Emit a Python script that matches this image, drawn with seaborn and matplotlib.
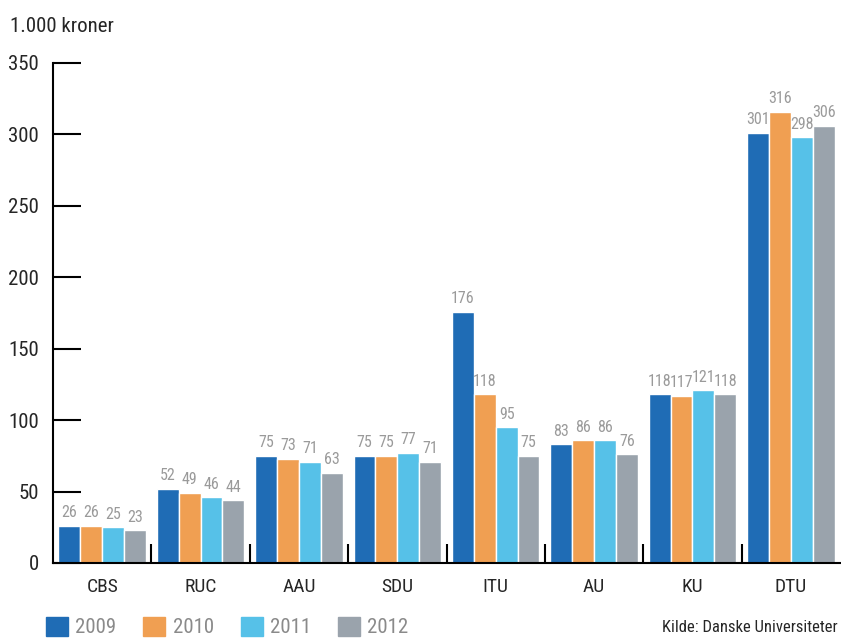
import matplotlib
matplotlib.use("Agg")
import matplotlib.pyplot as plt
import seaborn as sns
import pandas as pd
from matplotlib import font_manager as fm
from matplotlib.ticker import FixedLocator

universities = ["CBS", "RUC", "AAU", "SDU", "ITU", "AU", "KU", "DTU"]
years = ["2009", "2010", "2011", "2012"]
v2009 = [26, 52, 75, 75, 176, 83, 118, 301]
v2010 = [26, 49, 73, 75, 118, 86, 117, 316]
v2011 = [25, 46, 71, 77, 95, 86, 121, 298]
v2012 = [23, 44, 63, 71, 75, 76, 118, 306]
colors = ["#1f6cb5", "#f09f52", "#56c1e8", "#9aa3ac"]

rows = []
for y, vals in zip(years, [v2009, v2010, v2011, v2012]):
    for u, v in zip(universities, vals):
        rows.append({"uni": u, "year": y, "value": v})
df = pd.DataFrame(rows)

sns.set_theme(style="white")
names = {f.name for f in fm.fontManager.ttflist}
fam = [f for f in ["Liberation Sans Narrow", "Roboto Condensed", "DejaVu Sans Condensed"] if f in names] + ["DejaVu Sans"]
plt.rcParams["font.family"] = fam

fig = plt.figure(figsize=(8.41, 6.39), dpi=100)
ax = fig.add_axes([53/841, 1-563/639, 787/841, 500/639])
sns.barplot(data=df, x="uni", y="value", hue="year", palette=colors,
            width=0.89, ax=ax, saturation=1, edgecolor="white", linewidth=1,
            legend=False)

for c in ax.containers:
    ax.bar_label(c, padding=4, color="#9a9a9a", fontsize=11.5)

ax.set_xlim(-0.5, 7.5)
ax.set_ylim(0, 350)
ax.set_yticks(range(0, 351, 50))
ax.set_xlabel("")
ax.set_ylabel("")
for s in ["top", "right"]:
    ax.spines[s].set_visible(False)
for s in ["left", "bottom"]:
    ax.spines[s].set_color("black")
    ax.spines[s].set_linewidth(1.5)
ax.tick_params(axis="y", direction="in", length=20, width=1.5, color="black",
               labelsize=15, pad=10, left=True)
ax.tick_params(axis="x", which="major", length=0, labelsize=14, pad=11)
ax.xaxis.set_minor_locator(FixedLocator([i + 0.5 for i in range(7)]))
ax.tick_params(axis="x", which="minor", direction="in", length=14, width=1.5,
               color="black", bottom=True)
ax.grid(False)

handles = [plt.Rectangle((0, 0), 1, 1, color=c) for c in colors]
leg = fig.legend(handles, years, loc="center left", bbox_to_anchor=(46/841, 1-627/639),
                 ncol=4, frameon=False, fontsize=15, handlelength=1.05,
                 handleheight=1.05, columnspacing=1.3, handletextpad=0.35,
                 borderpad=0, borderaxespad=0)
for t in leg.get_texts():
    t.set_color("#8a8a8a")

fig.text(10/841, 1-26/639, "1.000 kroner", fontsize=15, va="center", ha="left")
fig.text(838/841, 1-628/639, "Kilde: Danske Universiteter", fontsize=12,
         va="center", ha="right")

fig.savefig("out.png", dpi=100)
